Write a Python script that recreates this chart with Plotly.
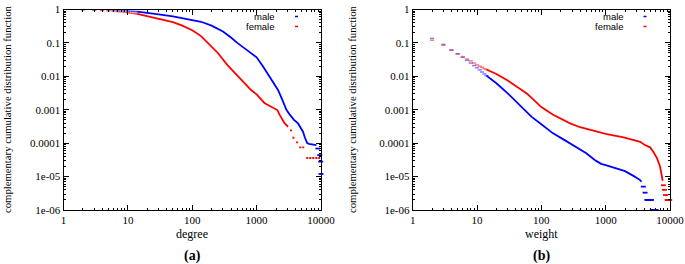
import plotly.graph_objects as go

W, H = 685, 264

# ---------------- Panel (a): degree ----------------
deg_dot_x = [2, 3, 4, 5, 6, 7, 8, 9, 10, 11, 12, 13, 14]
male_deg_dot_y = [0.99, 0.98, 0.97, 0.957, 0.945, 0.933, 0.921, 0.91, 0.9, 0.89, 0.88, 0.87, 0.86]
female_deg_dot_y = [0.98, 0.955, 0.93, 0.905, 0.88, 0.86, 0.84, 0.82, 0.8, 0.78, 0.765, 0.75, 0.735]

male_deg_x = [14, 20, 30, 50, 70, 100, 137, 200, 300, 400, 500, 700, 1000, 1250, 1580, 1850, 2150,
              2500, 2900, 3300, 3800, 4400, 4800, 5250, 5600, 6100, 6500, 7500, 8500]
male_deg_y = [0.86, 0.8, 0.72, 0.62, 0.55, 0.49, 0.43, 0.33, 0.22, 0.145, 0.1, 0.062, 0.037, 0.02, 0.01,
              0.006, 0.0039, 0.002, 0.001, 0.0007, 0.0005, 0.00039, 0.0003, 0.00022, 0.00015, 0.0001,
              9.5e-5, 9e-5, 8.7e-5]
male_deg_tail_x = [8950, 9550, 9900, 10000]
male_deg_tail_y = [6.9e-5, 4.4e-5, 2.8e-5, 1.2e-5]

female_deg_x = [14, 20, 30, 50, 70, 100, 137, 173, 250, 350, 450, 550, 650, 820, 1000, 1320, 1600,
                1900, 2100, 2280, 2500, 2700, 3080]
female_deg_y = [0.735, 0.62, 0.52, 0.42, 0.33, 0.24, 0.16, 0.1, 0.05, 0.022, 0.013, 0.0085, 0.006,
                0.0039, 0.0029, 0.0016, 0.0013, 0.0011, 0.00098, 0.0007, 0.0005, 0.0004, 0.00031]
female_deg_step_x = [3300, 3550, None, 3600, 4000, None, 4100, 4500, None, 4600, 5600, None, 5900, 10000]
female_deg_step_y = [2.4e-4, 2.4e-4, None, 1.45e-4, 1.45e-4, None, 1.05e-4, 1.05e-4, None,
                     7.5e-5, 7.5e-5, None, 3.6e-5, 3.6e-5]

# ---------------- Panel (b): weight ----------------
wt_dot_x = [2, 3, 4, 5, 6, 7, 8, 9, 10, 11, 12, 13, 14]
male_wt_dot_y = [0.137, 0.09, 0.062, 0.047, 0.037, 0.030, 0.025, 0.021, 0.018, 0.0155, 0.0135, 0.0118, 0.0105]
female_wt_dot_y = [0.12, 0.085, 0.06, 0.047, 0.039, 0.033, 0.029, 0.025, 0.022, 0.02, 0.0185, 0.017, 0.016]

male_wt_x = [14, 20, 30, 40, 50, 70, 100, 150, 220, 350, 500, 700, 850, 1000, 1500, 2000, 2700, 3400, 3600]
male_wt_y = [0.0105, 0.0062, 0.0031, 0.0018, 0.0011, 0.00062, 0.00037, 0.0002, 0.00013, 7.5e-5, 5e-5,
             3e-5, 2.4e-5, 2.2e-5, 1.75e-5, 1.45e-5, 1.05e-5, 8e-6, 7e-6]
male_wt_tail_x = [3850, 4100, 4350, 4550, 4750, 4950, 5150, 5300, 5500, 5700, 5900, 6100]
male_wt_tail_y = [5e-6, 3.3e-6, 2e-6, 2e-6, 2e-6, 2e-6, 2e-6, 1e-6, 1e-6, 1e-6, 1e-6, 1e-6]

female_wt_x = [14, 17, 20, 30, 40, 50, 60, 70, 100, 150, 200, 280, 400, 575, 1000, 1900, 2500, 3450,
               4000, 4900, 5500, 6300, 7000, 7450, 7700]
female_wt_y = [0.016, 0.0138, 0.0118, 0.0075, 0.0052, 0.004, 0.003, 0.0023, 0.0012, 0.00072, 0.00055,
               0.00039, 0.0003, 0.00025, 0.00019, 0.00015, 0.00013, 0.00011, 9e-5, 7.5e-5, 5.5e-5,
               3.5e-5, 2e-5, 1e-5, 7.5e-6]
female_wt_tail_x = [7900, 8200, 8500, 9000, 9300, 9600, 9900]
female_wt_tail_y = [5.5e-6, 4e-6, 2.8e-6, 2e-6, 2e-6, 2e-6, 2e-6]

# ---------------- ticks ----------------
x_tickvals = [1, 10, 100, 1000, 10000]
x_ticktext = ["1", "10", "100", "1000", "10000"]
y_tickvals = [1, 0.1, 0.01, 0.001, 0.0001, 1e-5, 1e-6]
y_ticktext = ["1", "0.1", "0.01", "0.001", "0.0001", "1e-05", "1e-06"]

BLUE = "#0000ff"
RED = "#ff0000"
BLUE_DOT = "rgba(0,0,255,0.5)"
RED_DOT = "rgba(255,0,0,0.5)"

fig = go.Figure()


def dot_marker(col, w, size=3):
    return dict(symbol="line-ew-open", size=size, color=col, line=dict(width=w, color=col))


def add_series(xa, ya, dx, dy, lx, ly, tx, ty, col, dotcol, step=False):
    fig.add_trace(go.Scatter(x=dx, y=dy, mode="markers", xaxis=xa, yaxis=ya, showlegend=False,
                             cliponaxis=False, marker=dot_marker(dotcol, 1.5)))
    fig.add_trace(go.Scatter(x=lx, y=ly, mode="lines", xaxis=xa, yaxis=ya, showlegend=False,
                             line=dict(color=col, width=1.8)))
    if step:
        fig.add_trace(go.Scatter(x=tx, y=ty, mode="lines", xaxis=xa, yaxis=ya, showlegend=False,
                                 cliponaxis=False, connectgaps=False,
                                 line=dict(color=col, width=1.8, dash="2px,1px")))
    else:
        fig.add_trace(go.Scatter(x=tx, y=ty, mode="markers", xaxis=xa, yaxis=ya, showlegend=False,
                                 cliponaxis=False, marker=dot_marker(col, 1.8, 3.5)))


add_series("x", "y", deg_dot_x, male_deg_dot_y, male_deg_x, male_deg_y, male_deg_tail_x, male_deg_tail_y,
           BLUE, BLUE_DOT)
add_series("x", "y", deg_dot_x, female_deg_dot_y, female_deg_x, female_deg_y, female_deg_step_x,
           female_deg_step_y, RED, RED_DOT, step=True)
add_series("x2", "y2", wt_dot_x, male_wt_dot_y, male_wt_x, male_wt_y, male_wt_tail_x, male_wt_tail_y,
           BLUE, BLUE_DOT)
add_series("x2", "y2", wt_dot_x, female_wt_dot_y, female_wt_x, female_wt_y, female_wt_tail_x,
           female_wt_tail_y, RED, RED_DOT)

SERIF = "Liberation Serif"
SANS = "Liberation Sans"


def px(x):
    return x / W


def py(y):
    return 1 - y / H


minor_vals = [k * 10 ** e for e in range(-6, 4) for k in range(2, 10)]

common_x = dict(type="log", range=[0, 4], showline=True, linecolor="black", linewidth=1, mirror="ticks",
                ticks="inside", ticklen=5, tickwidth=1, tickcolor="black", tickmode="array",
                tickvals=x_tickvals, ticktext=x_ticktext, showgrid=False, zeroline=False, automargin=False,
                tickfont=dict(family=SERIF, size=11, color="black"),
                minor=dict(ticks="inside", ticklen=2.5, tickwidth=1, tickcolor="black", showgrid=False,
                           tickmode="array", tickvals=minor_vals))
common_y = dict(type="log", range=[-6, 0], showline=True, linecolor="black", linewidth=1, mirror="ticks",
                ticks="inside", ticklen=5, tickwidth=1, tickcolor="black", tickmode="array",
                tickvals=y_tickvals, ticktext=y_ticktext, showgrid=False, zeroline=False, automargin=False,
                tickfont=dict(family=SERIF, size=11, color="black"),
                minor=dict(ticks="inside", ticklen=2.5, tickwidth=1, tickcolor="black", showgrid=False,
                           tickmode="array", tickvals=minor_vals))

ydom = [py(210), py(9.5)]
fig.update_layout(
    template="none",
    width=W, height=H, margin=dict(l=0, r=0, t=0, b=0, pad=0, autoexpand=False),
    paper_bgcolor="white", plot_bgcolor="white", showlegend=False,
    xaxis=dict(domain=[px(63.5), px(321)], anchor="y", **common_x),
    yaxis=dict(domain=ydom, anchor="x", **common_y),
    xaxis2=dict(domain=[px(412.7), px(670)], anchor="y2", **common_x),
    yaxis2=dict(domain=ydom, anchor="x2", **common_y),
)

ann = []
ytitle = "complementary cumulative distribution function"
for xc, lbl, xt, sub in [(7, ytitle, 192, "degree"), (352, ytitle, 541, "weight")]:
    ann.append(dict(x=px(xc), y=py(109), xref="paper", yref="paper", text=lbl, textangle=-90,
                    xanchor="center", yanchor="middle",
                    showarrow=False, font=dict(family=SERIF, size=10.7, color="black")))
    ann.append(dict(x=px(xt), y=py(234), xref="paper", yref="paper", text=sub, showarrow=False,
                    xanchor="center", yanchor="middle",
                    font=dict(family=SERIF, size=12, color="black")))
for xt, lab in [(192, "<b>(a)</b>"), (541, "<b>(b)</b>")]:
    ann.append(dict(x=px(xt), y=py(256), xref="paper", yref="paper", text=lab, showarrow=False,
                    xanchor="center", yanchor="middle",
                    font=dict(family=SERIF, size=14, color="black")))

shapes = []
for tx_right, sx in [(277, 296.5), (626, 645)]:
    for lab, yy, col in [("male", 16.5, BLUE), ("female", 26.5, RED)]:
        ann.append(dict(x=px(tx_right), y=py(yy), xref="paper", yref="paper", text=lab, showarrow=False,
                        xanchor="right", yanchor="middle", font=dict(family=SANS, size=9.5, color="black")))
        shapes.append(dict(type="line", xref="paper", yref="paper", x0=px(sx - 1.5), x1=px(sx + 1.5),
                           y0=py(yy), y1=py(yy), line=dict(color=col, width=1.5)))

fig.update_layout(annotations=ann, shapes=shapes)
fig.write_html("out.html", config={"displayModeBar": False},
               post_script="document.body.style.margin='0';document.body.style.overflow='hidden';")
